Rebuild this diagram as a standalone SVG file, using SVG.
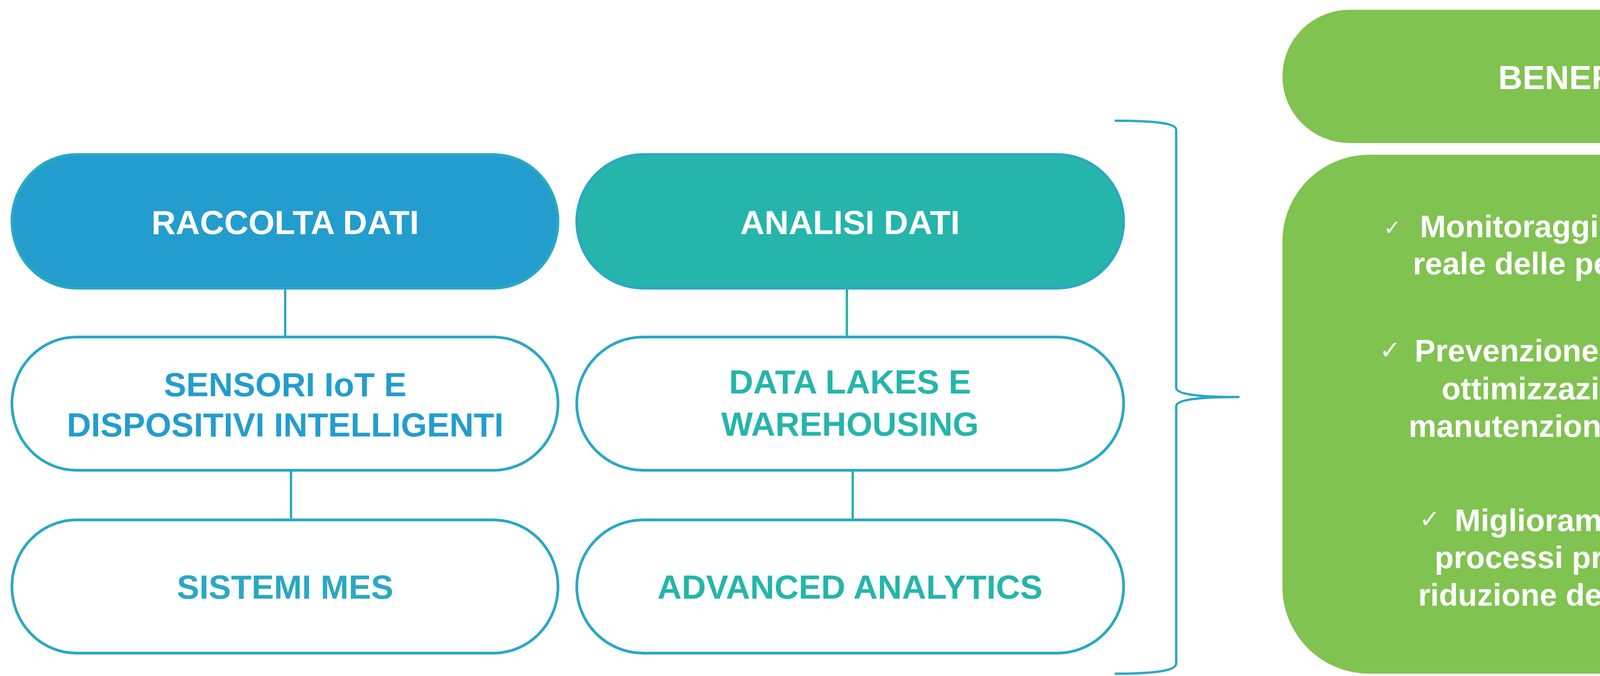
<svg xmlns="http://www.w3.org/2000/svg" width="4815" height="1730" viewBox="0 0 4815 1730">
<style>
.lbl{font-family:"Liberation Sans",Arial,sans-serif;font-weight:bold;text-anchor:middle}
.head{font-size:86px;fill:#ffffff}
.sub{font-size:86px}
.box{stroke:#2AA8C4;stroke-width:7}
.ben{font-family:"Liberation Sans",Arial,sans-serif;font-weight:bold;font-size:80px;fill:#ffffff;text-anchor:middle}
.chk{font-family:"DejaVu Sans",sans-serif;fill:#ffffff;text-anchor:end}
</style>
<rect width="4815" height="1730" fill="#ffffff"/>
<g id="connectors" fill="none">
<line x1="730" y1="741" x2="730" y2="859" stroke="#2AA8C4" stroke-width="6"/>
<line x1="745" y1="1207" x2="745" y2="1327" stroke="#2AA8C4" stroke-width="6"/>
<line x1="2168" y1="741" x2="2168" y2="859" stroke="#25B5AB" stroke-width="6"/>
<line x1="2183" y1="1207" x2="2183" y2="1327" stroke="#25B5AB" stroke-width="6"/>
<path id="brace" d="M2854,309 C2960,309 3011,316 3011,332 L3011,992 C3011,1008 3060,1016 3173,1016 C3060,1016 3011,1024 3011,1040 L3011,1698 C3011,1716 2960,1724 2854,1724" stroke="#2AA8C4" stroke-width="6"/>
</g>
<g id="raccolta">
<rect class="box" x="30.5" y="395.5" width="1398" height="342" rx="165" ry="171" fill="#239DCD"/>
<text class="lbl head" x="730" y="599">RACCOLTA DATI</text>
</g>
<g id="sensori">
<rect class="box" x="30.5" y="862.5" width="1398" height="341" rx="165" ry="170.5" fill="#ffffff"/>
<text class="lbl sub" x="730" y="1014" fill="#239DCD">SENSORI IoT E</text>
<text class="lbl sub" x="730" y="1117" fill="#239DCD">DISPOSITIVI INTELLIGENTI</text>
</g>
<g id="mes">
<rect class="box" x="30.5" y="1330.5" width="1398" height="341" rx="165" ry="170.5" fill="#ffffff"/>
<text class="lbl sub" x="730" y="1532" fill="#2AA8C4">SISTEMI MES</text>
</g>
<g id="analisi">
<rect class="box" x="1476.5" y="395.5" width="1400" height="342" rx="170" ry="171" fill="#25B5AB"/>
<text class="lbl head" x="2176" y="599">ANALISI DATI</text>
</g>
<g id="datalakes">
<rect class="box" x="1476.5" y="862.5" width="1400" height="341" rx="170" ry="170.5" fill="#ffffff"/>
<text class="lbl sub" x="2176" y="1007" fill="#25B5AB">DATA LAKES E</text>
<text class="lbl sub" x="2176" y="1115" fill="#25B5AB">WAREHOUSING</text>
</g>
<g id="analytics">
<rect class="box" x="1476.5" y="1330.5" width="1400" height="341" rx="170" ry="170.5" fill="#ffffff"/>
<text class="lbl sub" x="2176" y="1532" fill="#25B5AB">ADVANCED ANALYTICS</text>
</g>
<g id="benefici">
<rect x="3283" y="25" width="1505" height="341" rx="172" ry="170.5" fill="#80C350"/>
<text class="lbl head" x="4036" y="228">BENEFICI</text>
</g>
<g id="benefici-list">
<rect x="3283" y="396" width="1505" height="1328" rx="222" ry="222" fill="#80C350"/>
<text class="chk" x="3587" y="601" font-size="54">✓</text>
<text class="ben" x="4066" y="607">Monitoraggio in tempo</text>
<text class="ben" x="4066" y="702">reale delle performance</text>
<text class="chk" x="3585" y="918" font-size="64">✓</text>
<text class="ben" x="4066" y="925">Prevenzione di guasti e</text>
<text class="ben" x="4066" y="1022">ottimizzazione della</text>
<text class="ben" x="4066" y="1118">manutenzione predittiva</text>
<text class="chk" x="3687" y="1350" font-size="64">✓</text>
<text class="ben" x="4066" y="1359">Miglioramento dei</text>
<text class="ben" x="4066" y="1454">processi produttivi e</text>
<text class="ben" x="4066" y="1550">riduzione degli sprechi</text>
</g>
</svg>
